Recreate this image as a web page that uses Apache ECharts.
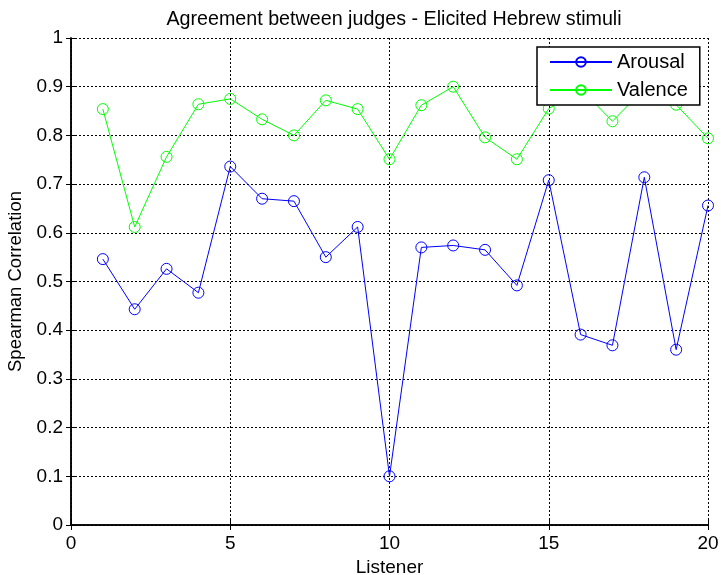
<!DOCTYPE html>
<html>
<head>
<meta charset="utf-8">
<script src="https://cdn.jsdelivr.net/npm/echarts@6/dist/echarts.min.js"></script>
<style>
  html, body { margin: 0; padding: 0; background: #fff; }
  #main { width: 721px; height: 575px; }
</style>
</head>
<body>
<div id="main"></div>
<script>
// listener number on x, one value per listener for each judge scale
const listeners = [1, 2, 3, 4, 5, 6, 7, 8, 9, 10, 11, 12, 13, 14, 15, 16, 17, 18, 19, 20];
const arousal = [0.546, 0.443, 0.526, 0.477, 0.736, 0.670, 0.665, 0.550, 0.612, 0.100,
                 0.570, 0.574, 0.565, 0.492, 0.708, 0.391, 0.369, 0.714, 0.360, 0.656];
const valence = [0.854, 0.612, 0.756, 0.864, 0.875, 0.833, 0.800, 0.872, 0.854, 0.751,
                 0.862, 0.900, 0.796, 0.751, 0.855, 0.896, 0.829, 0.896, 0.863, 0.794];

const font = "Liberation Sans, Arial, sans-serif";
const chart = echarts.init(document.getElementById("main"));

function pairs(ys) {
  return listeners.map((x, i) => [x, ys[i]]);
}

// box axes (top / right) only draw the frame and inner ticks
const boxX = {
  type: "value", min: 0, max: 20, interval: 5, position: "top",
  axisLine: { show: true, lineStyle: { color: "#000", width: 1.5 } },
  axisTick: { show: true, inside: true, length: 5, lineStyle: { color: "#000" } },
  axisLabel: { show: false }, splitLine: { show: false }
};
const boxY = {
  type: "value", min: 0, max: 1, interval: 0.1, position: "right",
  axisLine: { show: true, lineStyle: { color: "#000", width: 1.5 } },
  axisTick: { show: true, inside: true, length: 5, lineStyle: { color: "#000" } },
  axisLabel: { show: false }, splitLine: { show: false }
};

const option = {
  animation: false,
  backgroundColor: "#fff",
  title: {
    text: "Agreement between judges - Elicited Hebrew stimuli",
    left: 389, top: 5, textAlign: "center",
    textStyle: { fontFamily: font, fontSize: 19.7, fontWeight: "normal", color: "#000" }
  },
  legend: {
    orient: "vertical",
    left: 537, top: 47,
    padding: [5, 12, 5, 12],
    itemWidth: 62, itemHeight: 12, itemGap: 8,
    backgroundColor: "#fff",
    borderColor: "#000", borderWidth: 1.5, borderRadius: 0,
    textStyle: { fontFamily: font, fontSize: 20, color: "#000" },
    data: ["Arousal", "Valence"]
  },
  grid: { left: 71, right: 13, top: 38, bottom: 50, outerBoundsMode: "none" },
  xAxis: [{
    type: "value", min: 0, max: 20, interval: 5,
    name: "Listener", nameLocation: "middle", nameGap: 32,
    nameTextStyle: { fontFamily: font, fontSize: 19, color: "#000" },
    axisLine: { show: true, onZero: false, lineStyle: { color: "#000", width: 1.5 } },
    axisTick: { show: true, inside: true, length: 5, lineStyle: { color: "#000" } },
    axisLabel: { fontFamily: font, fontSize: 19, color: "#000", margin: 9 },
    splitLine: { show: true, lineStyle: { color: "#000", type: [2, 2], width: 1 } }
  }, boxX],
  yAxis: [{
    type: "value", min: 0, max: 1, interval: 0.1,
    name: "Spearman Correlation", nameLocation: "middle", nameGap: 43,
    nameTextStyle: { fontFamily: font, fontSize: 18.5, color: "#000" },
    axisLine: { show: true, onZero: false, lineStyle: { color: "#000", width: 1.5 } },
    axisTick: { show: true, inside: true, length: 5, lineStyle: { color: "#000" } },
    axisLabel: {
      fontFamily: font, fontSize: 19, color: "#000", margin: 8,
      formatter: v => (Math.round(v * 10) / 10).toString()
    },
    splitLine: { show: true, lineStyle: { color: "#000", type: [2, 2], width: 1 } }
  }, boxY],
  series: [
    {
      name: "Arousal", type: "line", data: pairs(arousal),
      symbol: "circle", symbolSize: 11,
      lineStyle: { color: "#0000ff", width: 1 },
      itemStyle: { color: "rgba(0,0,0,0)", borderColor: "#0000ff", borderWidth: 1 },
      z: 3
    },
    {
      name: "Valence", type: "line", data: pairs(valence),
      symbol: "circle", symbolSize: 11,
      lineStyle: { color: "#00ff00", width: 1 },
      itemStyle: { color: "rgba(0,0,0,0)", borderColor: "#00ff00", borderWidth: 1 },
      z: 3
    }
  ]
};

chart.setOption(option);
</script>
</body>
</html>
